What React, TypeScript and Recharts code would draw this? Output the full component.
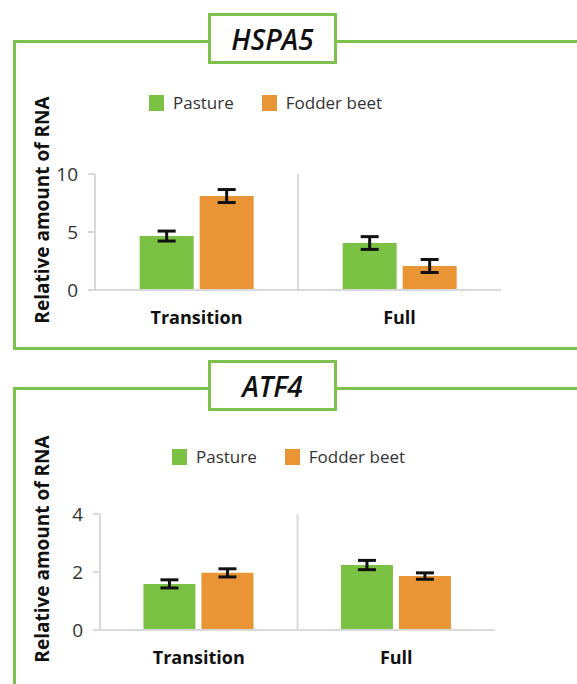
import React from 'react'
import {BarChart, Bar, XAxis, YAxis, CartesianGrid, Legend, ErrorBar} from 'recharts'

const categories = ['Transition', 'Full']

const hspa5Pasture = [4.65, 4.05]
const hspa5PastureErr = [0.43, 0.55]
const hspa5Beet = [8.1, 2.07]
const hspa5BeetErr = [0.56, 0.56]
const hspa5Ticks = [0, 5, 10]

const atf4Pasture = [1.59, 2.24]
const atf4PastureErr = [0.14, 0.16]
const atf4Beet = [1.97, 1.86]
const atf4BeetErr = [0.14, 0.11]
const atf4Ticks = [0, 2, 4]

const seriesNames = ['Pasture', 'Fodder beet']

const GREEN = '#7bc143'
const ORANGE = '#e99536'
const FRAME = '#7dc24c'
const AXIS = '#d9d9d9'
const FONT = '"Open Sans", "Noto Sans", sans-serif'

const buildRows = (p: number[], pe: number[], b: number[], be: number[]) =>
  categories.map((c, i) => ({name: c, pasture: p[i], pastureErr: pe[i], beet: b[i], beetErr: be[i]}))

const LegendBox = ({gap}: {gap: number}) => (
  <div style={{display: 'flex', alignItems: 'center', fontFamily: FONT, fontSize: 17, color: '#333', lineHeight: '20px'}}>
    {seriesNames.map((n, i) => (
      <div key={n} style={{display: 'flex', alignItems: 'center', marginRight: i === 0 ? gap : 0}}>
        <div style={{width: 15, height: 16, background: i === 0 ? GREEN : ORANGE, marginRight: 9}} />
        <span>{n}</span>
      </div>
    ))}
  </div>
)

function Panel({
  top,
  frameTop,
  frameHeight,
  title,
  rows,
  ticks,
  height,
  margin,
  legendPos,
  labelY,
}: {
  top: number
  frameTop: number
  frameHeight: number
  title: string
  rows: any[]
  ticks: number[]
  height: number
  margin: {top: number; right: number; bottom: number; left: number}
  legendPos: {top: number; left: number}
  labelY: number
}) {
  return (
    <div style={{position: 'absolute', left: 0, top, width: 577, height}}>
      {/* 枠 */}
      <div
        style={{
          position: 'absolute',
          left: 13,
          top: frameTop,
          width: 620,
          height: frameHeight,
          border: `3px solid ${FRAME}`,
          boxSizing: 'border-box',
        }}
      />
      <BarChart
        width={577}
        height={height}
        data={rows}
        margin={margin}
        barCategoryGap="22%"
        barGap={6}
        style={{position: 'absolute', left: 0, top: 0}}
      >
        <CartesianGrid
          horizontal={false}
          stroke={AXIS}
          strokeWidth={2}
          verticalCoordinatesGenerator={({offset}: any) => [offset.left + offset.width / 2]}
        />
        <XAxis
          dataKey="name"
          height={30}
          tickLine={false}
          tickSize={0}
          tickMargin={21}
          axisLine={{stroke: AXIS, strokeWidth: 2}}
          tick={{fontFamily: FONT, fontSize: 18, fontWeight: 700, fill: '#111'}}
        />
        <YAxis
          width={60}
          domain={[ticks[0], ticks[ticks.length - 1]]}
          ticks={ticks}
          interval={0}
          tickSize={7}
          tickMargin={10}
          axisLine={{stroke: AXIS, strokeWidth: 2}}
          tickLine={{stroke: AXIS, strokeWidth: 2}}
          tick={{fontFamily: FONT, fontSize: 19, fill: '#333'}}
        />
        <Legend
          layout="horizontal"
          verticalAlign="middle"
          align="center"
          wrapperStyle={{top: legendPos.top, left: legendPos.left, width: 'auto', height: 'auto'}}
          content={() => <LegendBox gap={28} />}
        />
        <Bar dataKey="pasture" name={seriesNames[0]} fill={GREEN} isAnimationActive={false}>
          <ErrorBar dataKey="pastureErr" width={9} strokeWidth={3} stroke="#111" isAnimationActive={false} />
        </Bar>
        <Bar dataKey="beet" name={seriesNames[1]} fill={ORANGE} isAnimationActive={false}>
          <ErrorBar dataKey="beetErr" width={9} strokeWidth={3} stroke="#111" isAnimationActive={false} />
        </Bar>
      </BarChart>
      {/* 縦軸ラベル */}
      <div
        style={{
          position: 'absolute',
          left: 42,
          top: labelY,
          transform: 'translate(-50%, -50%) rotate(-90deg)',
          whiteSpace: 'nowrap',
          fontFamily: FONT,
          fontWeight: 700,
          fontSize: 19,
          color: '#111',
        }}
      >
        Relative amount of RNA
      </div>
      {/* タイトル */}
      <div
        style={{
          position: 'absolute',
          left: 208,
          top: frameTop - 27,
          width: 129,
          height: 51,
          border: `3px solid ${FRAME}`,
          boxSizing: 'border-box',
          background: '#fff',
          display: 'flex',
          alignItems: 'center',
          justifyContent: 'center',
          fontFamily: FONT,
          fontStyle: 'italic',
          fontWeight: 600,
          fontSize: 28,
          color: '#111',
        }}
      >
        {title}
      </div>
    </div>
  )
}

export default function App() {
  return (
    <div style={{position: 'absolute', left: 0, top: 0, width: 577, height: 684, overflow: 'hidden', background: '#fff'}}>
      <Panel
        top={0}
        frameTop={40}
        frameHeight={310}
        title="HSPA5"
        rows={buildRows(hspa5Pasture, hspa5PastureErr, hspa5Beet, hspa5BeetErr)}
        ticks={hspa5Ticks}
        height={350}
        margin={{top: 174, right: 76, bottom: 30, left: 35}}
        legendPos={{top: 93, left: 149}}
        labelY={210}
      />
      <Panel
        top={350}
        frameTop={37}
        frameHeight={400}
        title="ATF4"
        rows={buildRows(atf4Pasture, atf4PastureErr, atf4Beet, atf4BeetErr)}
        ticks={atf4Ticks}
        height={334}
        margin={{top: 164, right: 82, bottom: 24, left: 40}}
        legendPos={{top: 97, left: 172}}
        labelY={199}
      />
    </div>
  )
}
